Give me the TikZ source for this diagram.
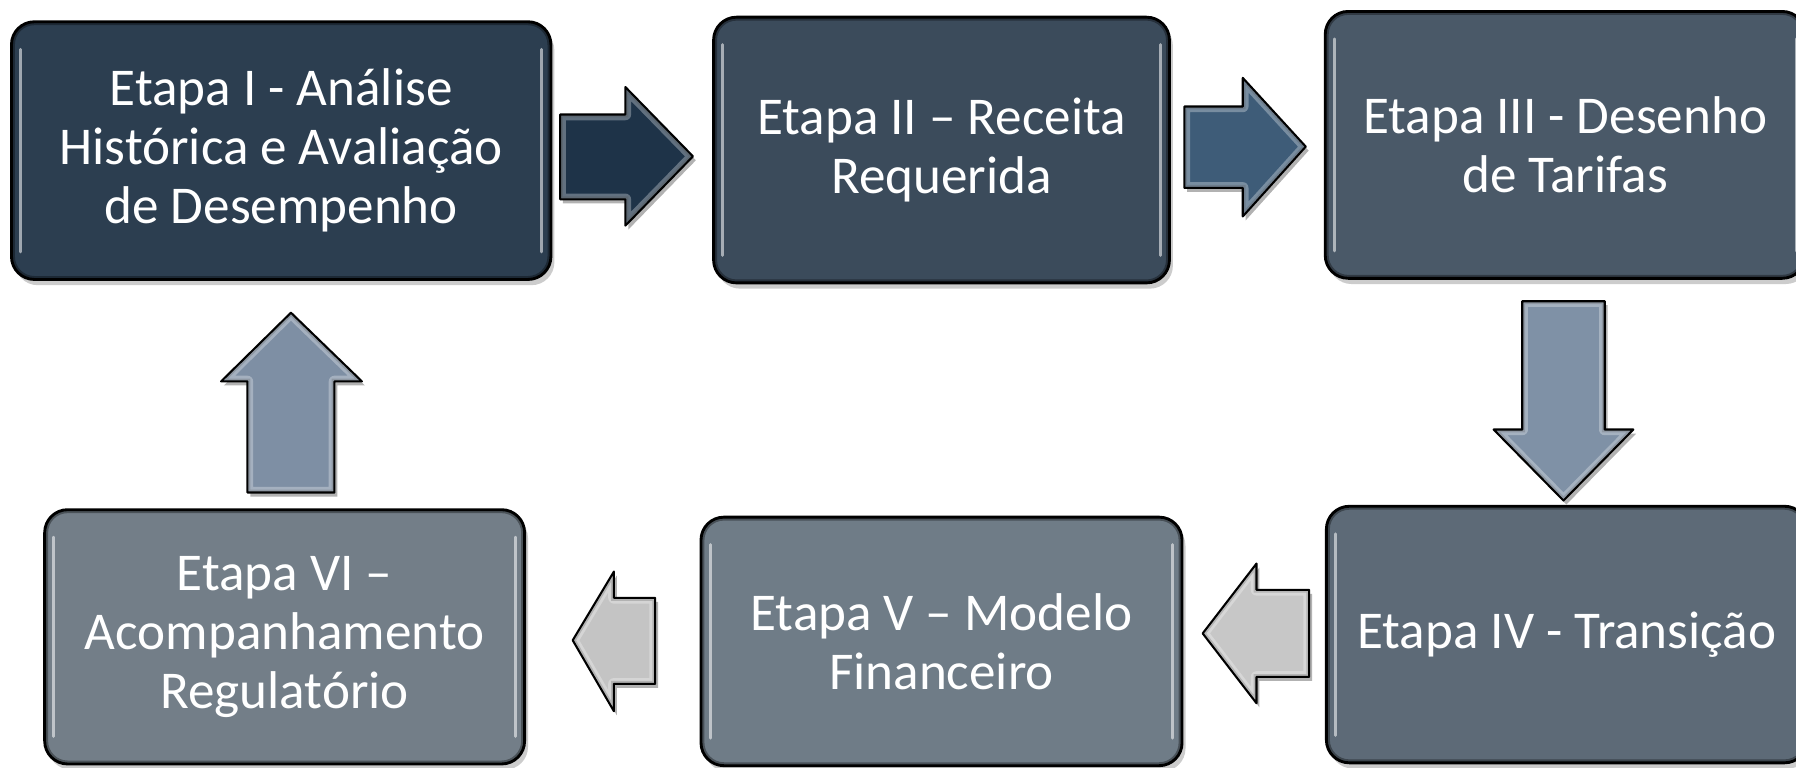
\documentclass[tikz,border=0pt]{standalone}
\usepackage{fontspec}
\setmainfont{Carlito}
\usetikzlibrary{shadows}
\definecolor{bxA}{HTML}{2C3E50}
\definecolor{bxB}{HTML}{3B4B5B}
\definecolor{bxC}{HTML}{4A5968}
\definecolor{bxD}{HTML}{5D6A77}
\definecolor{bxE}{HTML}{6F7C87}
\definecolor{bxF}{HTML}{737E88}
\definecolor{arA}{HTML}{1E3348}
\definecolor{arB}{HTML}{3E5C78}
\definecolor{arC}{HTML}{7F91A6}
\definecolor{arD}{HTML}{C7C7C7}
\definecolor{arE}{HTML}{C4C4C4}
\definecolor{arF}{HTML}{7E8FA4}
\tikzset{
  stage/.style={draw=black, line width=0.25mm, rounded corners=2mm, inner sep=0pt,
    align=center, text=white, font=\fontsize{13.2pt}{14.7pt}\selectfont,
    drop shadow={shadow xshift=0.3mm, shadow yshift=-0.5mm, opacity=0.4},
    path picture={
      \draw[black, opacity=.35, line width=0.6mm, rounded corners=2mm]
        (path picture bounding box.south west) rectangle (path picture bounding box.north east);
      \draw[white, opacity=.55, line width=0.25mm, line cap=round]
        ([xshift=0.8mm,yshift=2.4mm]path picture bounding box.south west) --
        ([xshift=0.8mm,yshift=-2.4mm]path picture bounding box.north west);
      \draw[white, opacity=.55, line width=0.25mm, line cap=round]
        ([xshift=-0.8mm,yshift=2.4mm]path picture bounding box.south east) --
        ([xshift=-0.8mm,yshift=-2.4mm]path picture bounding box.north east);
    }},
  arrowline/.style={draw=black, line width=0.18mm, line join=round},
}
\newcommand\blockarr[2]{%
  \fill[black, opacity=.3, xshift=0.25mm, yshift=-0.35mm] #2;
  \begin{scope}
    \clip #2;
    \fill[#1] #2;
    \draw[black, opacity=.25, line width=0.5mm] #2;
    \draw[white, opacity=.3, line width=1.0mm, line join=round] #2;
  \end{scope}
  \path[arrowline] #2;}
\begin{document}
\begin{tikzpicture}[x=0.1mm, y=-0.1mm]
\useasboundingbox (0,0) rectangle (1568,670);
\clip (0,0) rectangle (1568,670);
\fill[white] (0,0) rectangle (1568,670);

\node[stage, fill=bxA, minimum width=47.1mm, minimum height=22.5mm] (e1) at (245.5,131.5)
  {Etapa I - Análise\\Histórica e Avaliação\\de Desempenho};
\node[stage, fill=bxB, minimum width=39.8mm, minimum height=23.2mm] (e2) at (822,131)
  {Etapa II – Receita\\Requerida};
\node[stage, fill=bxC, minimum width=41.9mm, minimum height=23.3mm] (e3) at (1366.5,126.5)
  {Etapa III - Desenho\\de Tarifas};
\node[stage, fill=bxD, minimum width=42.0mm, minimum height=22.4mm] (e4) at (1368,554)
  {Etapa IV - Transição};
\node[stage, fill=bxE, minimum width=42.0mm, minimum height=21.7mm] (e5) at (822,560)
  {Etapa V – Modelo\\Financeiro};
\node[stage, fill=bxF, minimum width=41.9mm, minimum height=22.2mm] (e6) at (248.5,556)
  {Etapa VI –\\Acompanhamento\\Regulatório};

% block arrows
\blockarr{arA}{(489,100) -- (546,100) -- (546,76) -- (605,136.5) -- (546,197) -- (546,174) -- (489,174) -- cycle}
\blockarr{arB}{(1034,93) -- (1085,93) -- (1085,68) -- (1140,128) -- (1085,189) -- (1085,164) -- (1034,164) -- cycle}
\blockarr{arC}{(1329,263) -- (1401,263) -- (1401,375) -- (1426,375) -- (1365,437) -- (1304,375) -- (1329,375) -- cycle}
\blockarr{arD}{(1143,515) -- (1097,515) -- (1097,492) -- (1050,553) -- (1097,614) -- (1097,591) -- (1143,591) -- cycle}
\blockarr{arE}{(572,522) -- (536,522) -- (536,499) -- (500,559) -- (536,621) -- (536,597) -- (572,597) -- cycle}
\blockarr{arF}{(216,430) -- (216,333) -- (193,333) -- (254,273) -- (316,333) -- (292,333) -- (292,430) -- cycle}
\end{tikzpicture}
\end{document}
